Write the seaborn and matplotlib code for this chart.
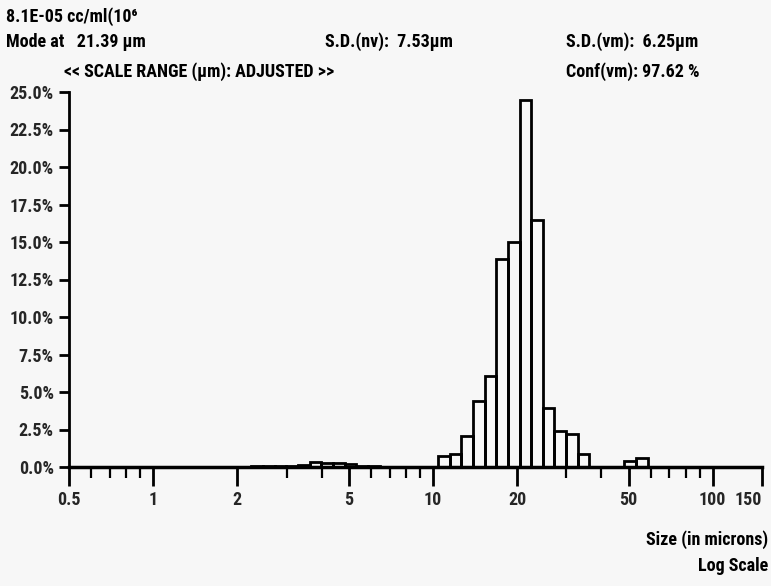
import os
import numpy as np
import pandas as pd
import matplotlib
matplotlib.use("Agg")
import matplotlib.pyplot as plt
import seaborn as sns
from matplotlib import font_manager as fm
from matplotlib.transforms import ScaledTranslation
from matplotlib.ticker import FixedLocator, FixedFormatter, NullFormatter

# ---- data (channel centre in microns, % volume) ----
size_um = [2.354, 2.592, 2.853, 3.140, 3.456, 3.804, 4.187, 4.609, 5.073, 5.584, 6.146,
           10.93, 12.03, 13.24, 14.58, 16.04, 17.66, 19.43, 21.39, 23.54, 25.92, 28.53,
           31.40, 34.56, 50.73, 55.84]
percent = [0.05, 0.08, 0.08, 0.10, 0.15, 0.35, 0.30, 0.25, 0.22, 0.10, 0.05,
           0.75, 0.90, 2.10, 4.40, 6.10, 13.9, 15.0, 24.5, 16.5, 3.90, 2.40,
           2.20, 0.85, 0.40, 0.60]

x_major = [0.5, 1, 2, 5, 10, 20, 50, 100, 150]
x_major_labels = ["0.5", "1", "2", "5", "10", "20", "50", "100", "150"]
x_minor = [0.6, 0.7, 0.8, 0.9, 3, 4, 6, 7, 8, 9, 30, 40, 60, 70, 80, 90]
y_ticks = [0, 2.5, 5, 7.5, 10, 12.5, 15, 17.5, 20, 22.5, 25]
y_labels = [f"{v:.1f}%" for v in y_ticks]

header_left = ["8.1E-05 cc/ml(10\u2076", "Mode at   21.39 \u00b5m"]
sd_nv = "S.D.(nv):  7.53\u00b5m"
sd_vm = "S.D.(vm):  6.25\u00b5m"
conf_vm = "Conf(vm): 97.62 %"
scale_range = "<< SCALE RANGE (\u00b5m): ADJUSTED >>"
xlabel1 = "Size (in microns)"
xlabel2 = "Log Scale"

df = pd.DataFrame({"size": size_um, "pct": percent})

W, H = 771, 586
bg = "#f7f7f7"
sns.set_style("white")
plt.rcParams["font.family"] = ["Roboto", "DejaVu Sans"]


def pick_font():
    cands = [dict(family="Liberation Sans Narrow", weight="bold"),
             dict(family="Roboto Condensed", weight="bold"),
             dict(family="Roboto", weight="bold"),
             dict(family="Liberation Sans", weight="bold")]
    for c in cands:
        try:
            return fm.findfont(fm.FontProperties(**c), fallback_to_default=False)
        except Exception:
            continue
    return fm.findfont(fm.FontProperties(family="DejaVu Sans", weight="bold"))


font_path = pick_font()

fig = plt.figure(figsize=(W / 100, H / 100), dpi=100, facecolor=bg)
renderer = fig.canvas.get_renderer()

# size the printer-like font so the header line is close to the printout's width
probe = fig.text(0, 0, scale_range, fontproperties=fm.FontProperties(fname=font_path, size=13))
pw = probe.get_window_extent(renderer).width
probe.remove()
fsize = max(11.0, min(13.5, 13.0 * 270.0 / pw))
FP = fm.FontProperties(fname=font_path, size=fsize)

ax = fig.add_axes([69 / W, (H - 467) / H, (762 - 69) / W, (467 - 92) / H])
ax.set_facecolor(bg)

# channel grid: 24 channels per decade, centred on the mode channel
step = 1 / 24
lo = np.log10(21.39) - 23.5 * step
bins = [float(lo + i * step) for i in range(35)]

sns.histplot(data=df, x="size", weights="pct", log_scale=True, bins=bins,
             fill=False, color="black", linewidth=2.0, ax=ax, clip_on=False)

ax.set_xlim(0.5, 150)
ax.set_ylim(0, 25)
ax.set_xlabel("")
ax.set_ylabel("")

ax.xaxis.set_major_locator(FixedLocator(x_major))
ax.xaxis.set_major_formatter(FixedFormatter(x_major_labels))
ax.xaxis.set_minor_locator(FixedLocator(x_minor))
ax.xaxis.set_minor_formatter(NullFormatter())
ax.set_yticks(y_ticks)
ax.set_yticklabels(y_labels)
for lab in ax.get_xticklabels() + ax.get_yticklabels():
    lab.set_fontproperties(FP)
last = ax.get_xticklabels()[-1]
last.set_horizontalalignment("right")
last.set_transform(last.get_transform() + ScaledTranslation(0.07, 0, fig.dpi_scale_trans))

ax.tick_params(axis="x", which="both", bottom=True, top=False)
ax.tick_params(axis="y", which="both", left=True, right=False)
ax.tick_params(axis="x", which="major", direction="out", length=14, width=2,
               color="black", pad=3)
ax.tick_params(axis="x", which="minor", direction="out", length=8, width=1.6,
               color="black")
ax.tick_params(axis="y", which="major", direction="out", length=7, width=2,
               color="black", pad=4)

for s in ["top", "right"]:
    ax.spines[s].set_visible(False)
ax.spines["left"].set_linewidth(2)
ax.spines["bottom"].set_linewidth(2.5)
ax.spines["left"].set_color("black")
ax.spines["bottom"].set_color("black")


def ftext(x, y, s, ha="left"):
    fig.text(x / W, 1 - y / H, s, ha=ha, va="center", fontproperties=FP,
             color="black")


ftext(6, 17, header_left[0])
ftext(6, 42, header_left[1])
ftext(325, 42, sd_nv)
ftext(566, 42, sd_vm)
ftext(64, 72, scale_range)
ftext(566, 72, conf_vm)
ftext(768, 540, xlabel1, ha="right")
ftext(768, 566, xlabel2, ha="right")

fig.savefig("out.png", dpi=100, facecolor=bg)
